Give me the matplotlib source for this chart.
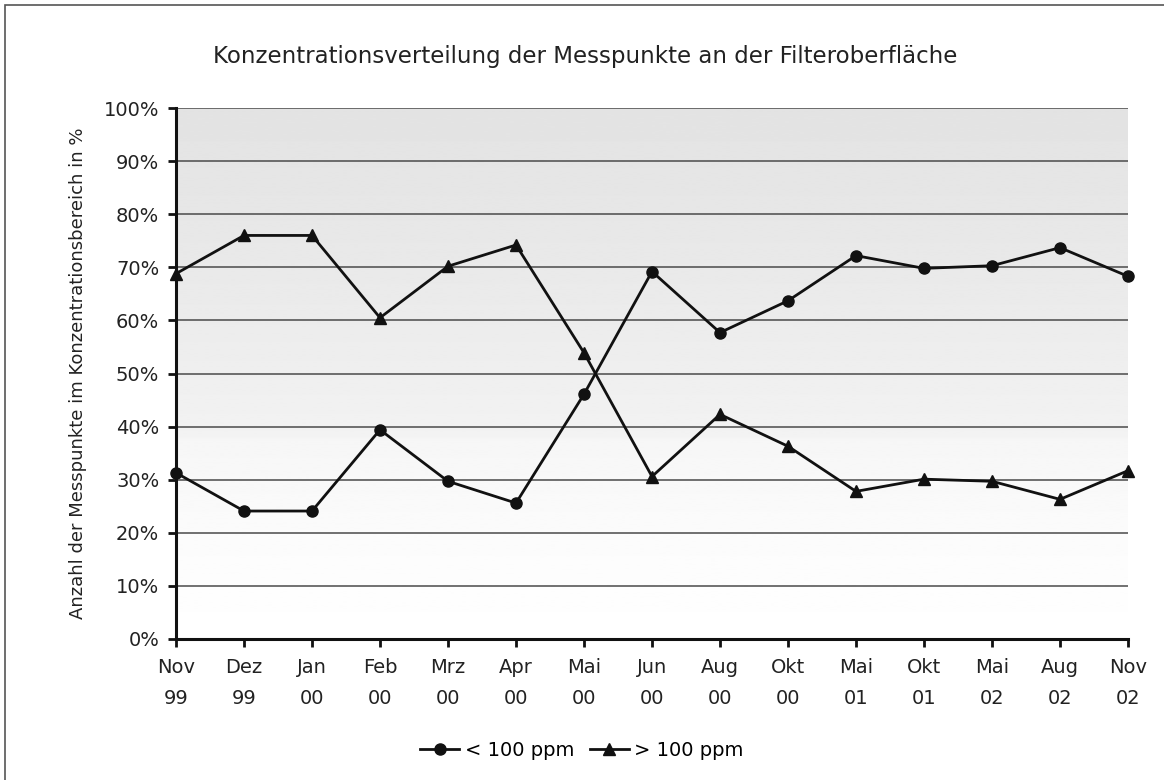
import numpy as np
import matplotlib
matplotlib.use("Agg")
import matplotlib.pyplot as plt
from matplotlib.patches import Rectangle

plt.rcParams['font.family'] = ['DejaVu Sans']

# data
months = ["Nov\n99", "Dez\n99", "Jan\n00", "Feb\n00", "Mrz\n00", "Apr\n00", "Mai\n00", "Jun\n00",
          "Aug\n00", "Okt\n00", "Mai\n01", "Okt\n01", "Mai\n02", "Aug\n02", "Nov\n02"]
below_100 = [31.3, 24.1, 24.1, 39.4, 29.7, 25.6, 46.1, 69.2, 57.7, 63.7, 72.2, 69.8, 70.3, 73.7, 68.3]
above_100 = [68.8, 76.0, 76.0, 60.5, 70.2, 74.2, 53.9, 30.6, 42.3, 36.3, 27.8, 30.1, 29.7, 26.3, 31.7]
y_ticks = [0, 10, 20, 30, 40, 50, 60, 70, 80, 90, 100]

fig = plt.figure(figsize=(11.64, 7.80), dpi=100)
ax = fig.add_axes([176 / 1164, 141 / 780, 952 / 1164, 531 / 780])

# frame around the chart (only top and left edges fall inside the image)
fig.patches.append(Rectangle((5 / 1164, -0.1), 1.2, 0.1 + 775 / 780, transform=fig.transFigure,
                             fill=False, edgecolor="#555555", linewidth=1.2))

x = np.arange(len(months))

# gray gradient background
stops_y = [0, 20, 37.5, 38.5, 60, 80, 100]
stops_c = [1.0, 0.985, 0.965, 0.95, 0.925, 0.905, 0.89]
yy = np.linspace(0, 100, 400)
grad = np.interp(yy, stops_y, stops_c)[::-1].reshape(-1, 1)
ax.imshow(grad, cmap="gray", vmin=0, vmax=1, aspect="auto",
          extent=[0, len(months) - 1, 0, 100], zorder=0, interpolation="bilinear")

for t in y_ticks[1:]:
    ax.axhline(t, color="#4a4a4a", linewidth=1.1, zorder=1)

ax.plot(x, below_100, color="#111111", linewidth=2.0, marker="o", markersize=8,
        label="< 100 ppm", zorder=3, clip_on=False)
ax.plot(x, above_100, color="#111111", linewidth=2.0, marker="^", markersize=9,
        label="> 100 ppm", zorder=3, clip_on=False)

ax.set_xlim(0, len(months) - 1)
ax.set_ylim(0, 100)
ax.set_xticks(x)
ax.set_xticklabels(months, fontsize=14, color="#222222", linespacing=1.75)
ax.set_yticks(y_ticks)
ax.set_yticklabels([f"{t}%" for t in y_ticks], fontsize=14, color="#222222")
ax.tick_params(axis="both", direction="out", length=6, width=2, color="#111111")
ax.tick_params(axis="x", pad=8)
ax.tick_params(axis="y", pad=6)

for s in ["top", "right"]:
    ax.spines[s].set_visible(False)
for s in ["left", "bottom"]:
    ax.spines[s].set_linewidth(2.2)
    ax.spines[s].set_color("#111111")

ax.set_ylabel("Anzahl der Messpunkte im Konzentrationsbereich in %", fontsize=13,
              color="#222222", labelpad=12)
fig.text(0.503, 0.927, "Konzentrationsverteilung der Messpunkte an der Filteroberfläche",
         ha="center", va="center", fontsize=16.5, color="#222222")

fig.legend(loc="center", bbox_to_anchor=(0.5, 30 / 780), ncol=2, frameon=False,
           fontsize=14, handlelength=2.0, columnspacing=0.8, handletextpad=0.3)

fig.savefig("out.png", dpi=100)
